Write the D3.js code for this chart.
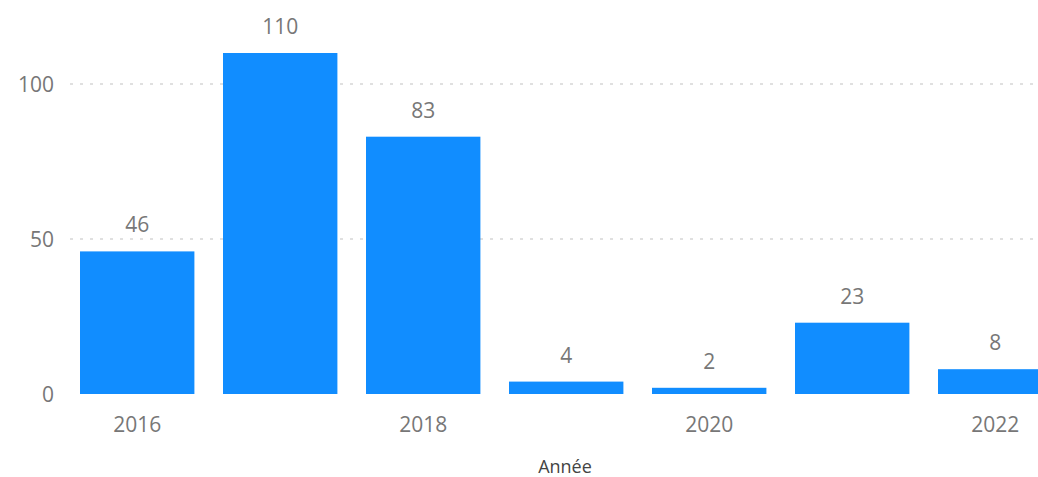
<!DOCTYPE html>
<html>
<head>
<meta charset="utf-8">
<script src="https://cdn.jsdelivr.net/npm/d3@7"></script>
<style>
  body { margin: 0; background: #fff; }
  svg { display: block; font-family: "Open Sans", "Noto Sans", sans-serif; }
</style>
</head>
<body>
<div id="chart"></div>
<script>
// Data
const years = [2016, 2017, 2018, 2019, 2020, 2021, 2022];
const counts = [46, 110, 83, 4, 2, 23, 8];
const yTicks = [0, 50, 100];
const xTickYears = [2016, 2018, 2020, 2022];

const width = 1038;
const height = 477;

const svg = d3.select("#chart")
  .append("svg")
  .attr("width", width)
  .attr("height", height);

// Scales
const x = d3.scaleBand()
  .domain(years)
  .range([65.7, 1066.7])
  .paddingInner(0.2)
  .paddingOuter(0.1);

const y = d3.scaleLinear()
  .domain([0, 100])
  .range([394, 84]);

// Gridlines (dotted)
svg.append("g")
  .selectAll("line")
  .data(yTicks.filter(d => d > 0))
  .enter().append("line")
  .attr("x1", 70)
  .attr("x2", width)
  .attr("y1", d => y(d))
  .attr("y2", d => y(d))
  .attr("stroke", "#d6d6d6")
  .attr("stroke-width", 1.5)
  .attr("stroke-dasharray", "3,7");

// Y axis labels
svg.append("g")
  .selectAll("text")
  .data(yTicks)
  .enter().append("text")
  .attr("x", 54)
  .attr("y", d => y(d) + 8)
  .attr("text-anchor", "end")
  .attr("fill", "#777")
  .attr("font-size", 21)
  .text(d => d);

// Bars
svg.append("g")
  .selectAll("rect")
  .data(years)
  .enter().append("rect")
  .attr("x", d => x(d))
  .attr("width", x.bandwidth())
  .attr("y", (d, i) => y(counts[i]))
  .attr("height", (d, i) => y(0) - y(counts[i]))
  .attr("fill", "#118DFF");

// Data labels
svg.append("g")
  .selectAll("text")
  .data(years)
  .enter().append("text")
  .attr("x", d => x(d) + x.bandwidth() / 2)
  .attr("y", (d, i) => y(counts[i]) - 19)
  .attr("text-anchor", "middle")
  .attr("fill", "#777")
  .attr("font-size", 21)
  .text((d, i) => counts[i]);

// X axis labels
svg.append("g")
  .selectAll("text")
  .data(xTickYears)
  .enter().append("text")
  .attr("x", d => x(d) + x.bandwidth() / 2)
  .attr("y", 432)
  .attr("text-anchor", "middle")
  .attr("fill", "#777")
  .attr("font-size", 21)
  .text(d => d);

// Axis title
svg.append("text")
  .attr("x", 565)
  .attr("y", 473)
  .attr("text-anchor", "middle")
  .attr("fill", "#444")
  .attr("font-size", 18)
  .text("Année");
</script>
</body>
</html>
